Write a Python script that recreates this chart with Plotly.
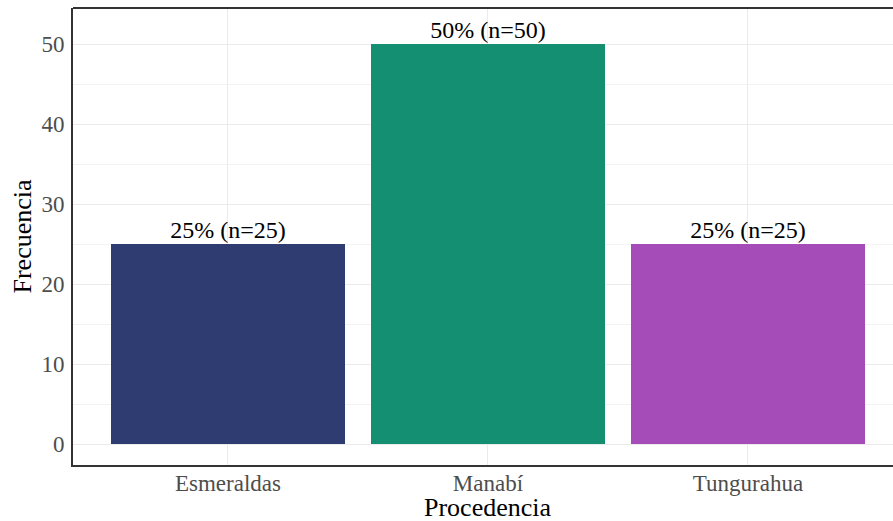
import plotly.graph_objects as go

categories = ["Esmeraldas", "Manabí", "Tungurahua"]
counts = [25, 50, 25]
percents = [25, 50, 25]
colors = ["#2F3C71", "#148F72", "#A64CB9"]
y_ticks = [0, 10, 20, 30, 40, 50]

labels = [f"{p}% (n={n})" for p, n in zip(percents, counts)]
xidx = list(range(len(categories)))

fig = go.Figure()
fig.add_trace(go.Bar(
    x=xidx, y=counts, width=0.9,
    marker=dict(color=colors, line=dict(width=0)),
    hoverinfo="skip",
))
fig.add_trace(go.Scatter(
    x=xidx, y=counts, mode="text", text=labels,
    textposition="top center",
    textfont=dict(family="Liberation Serif", size=24, color="black"),
    hoverinfo="skip",
))

serif = "Liberation Serif"
fig.update_layout(
    width=893, height=521,
    margin=dict(l=73, r=0, t=8, b=56),
    paper_bgcolor="white", plot_bgcolor="white",
    showlegend=False,
    bargap=0,
    font=dict(family=serif),
)
fig.update_xaxes(
    range=[-0.596, 2.558],
    automargin=False,
    tickmode="array", tickvals=xidx, ticktext=categories,
    tickfont=dict(family=serif, size=23, color="#4D4D4D"),
    showgrid=True, gridcolor="#EBEBEB", gridwidth=1,
    showline=True, linecolor="#333333", linewidth=2,
    ticks="", ticklabelstandoff=-4,
    zeroline=False,
)
fig.update_yaxes(
    range=[-2.625, 54.5],
    automargin=False,
    tickmode="array", tickvals=y_ticks,
    tickfont=dict(family=serif, size=23, color="#4D4D4D"),
    showgrid=True, gridcolor="#EBEBEB", gridwidth=1,
    minor=dict(dtick=5, tick0=5, showgrid=True, gridcolor="#F3F3F3", gridwidth=1),
    showline=True, linecolor="#333333", linewidth=2,
    ticks="", ticklabelstandoff=2,
    zeroline=False,
)
fig.add_shape(type="line", xref="paper", yref="paper", x0=0, x1=1, y0=1, y1=1,
              line=dict(color="#333333", width=2))
fig.add_annotation(text="Procedencia", xref="x", x=1, yref="paper", y=0,
                   yshift=-42, yanchor="middle", showarrow=False,
                   font=dict(family=serif, size=26, color="black"))
fig.add_annotation(text="Frecuencia", xref="paper", x=0, xshift=-51, xanchor="center",
                   yref="paper", y=0.5, yanchor="middle", textangle=-90, showarrow=False,
                   font=dict(family=serif, size=26, color="black"))

fig.write_html("out.html", config={"displayModeBar": False},
               post_script="document.body.style.margin='0';")
